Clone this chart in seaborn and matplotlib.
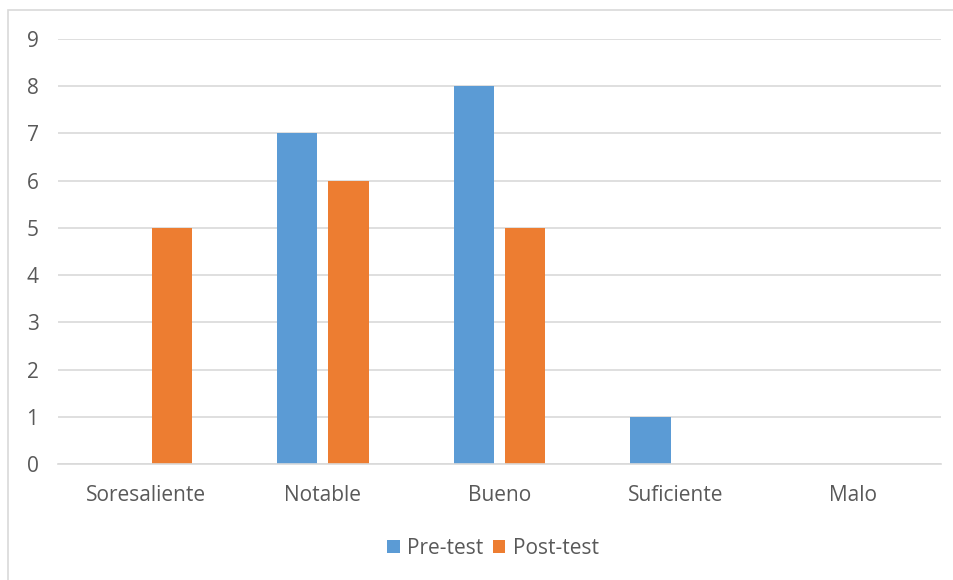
import matplotlib
matplotlib.use("Agg")
import matplotlib.pyplot as plt
import seaborn as sns
import pandas as pd
from matplotlib.patches import Rectangle, Patch

categories = ["Soresaliente", "Notable", "Bueno", "Suficiente", "Malo"]
pre_test = [0, 7, 8, 1, 0]
post_test = [5, 6, 5, 0, 0]
series = ["Pre-test", "Post-test"]
colors = ["#5B9BD5", "#ED7D31"]
y_ticks = list(range(0, 10))

df = pd.DataFrame({
    "categoria": categories * 2,
    "valor": pre_test + post_test,
    "serie": [series[0]] * len(categories) + [series[1]] * len(categories),
})

sns.set_style("white")
plt.rcParams["font.family"] = ["Open Sans", "DejaVu Sans"]
text_color = "#595959"
grid_color = "#D9D9D9"
fs = 15

W, H = 954, 580
fig = plt.figure(figsize=(W / 100, H / 100), dpi=100)
fig.patch.set_facecolor("white")

# outer chart frame
fig.add_artist(Rectangle((8 / W, -0.01), 1.0, 1 - 10 / H + 0.01,
                         transform=fig.transFigure, fill=False,
                         edgecolor="#D9D9D9", linewidth=1.2))

left, right = 58 / W, 941 / W
bottom, top = 1 - 464 / H, 1 - 39 / H
ax = fig.add_axes([left, bottom, right - left, top - bottom])

sns.barplot(data=df, x="categoria", y="valor", hue="serie",
            palette=colors, hue_order=series, order=categories,
            width=0.58, saturation=1, ax=ax, legend=False)

# narrow the bars so a small gap separates each pair
bar_w = 0.227
for p in ax.patches:
    cx = p.get_x() + p.get_width() / 2
    p.set_width(bar_w)
    p.set_x(cx - bar_w / 2)
    p.set_linewidth(0)

ax.set_ylim(0, 9)
ax.set_xlim(-0.5, len(categories) - 0.5)
ax.set_yticks(y_ticks)
ax.yaxis.grid(True, color=grid_color, linewidth=1.2)
ax.set_axisbelow(True)
for s in ["top", "right", "left"]:
    ax.spines[s].set_visible(False)
ax.spines["bottom"].set_color(grid_color)
ax.spines["bottom"].set_linewidth(1.2)
ax.set_xlabel("")
ax.set_ylabel("")
ax.tick_params(axis="y", length=0, pad=14, labelsize=fs, labelcolor=text_color)
ax.tick_params(axis="x", length=0, pad=15, labelsize=fs, labelcolor=text_color)

handles = [Patch(facecolor=c, edgecolor="none") for c in colors]
fig.legend(handles, series, loc="center", bbox_to_anchor=(493 / W, 1 - 548 / H),
           ncol=2, frameon=False, fontsize=fs, labelcolor=text_color,
           handlelength=0.6, handleheight=0.6, handletextpad=0.35,
           columnspacing=0.45)

fig.savefig("out.png", dpi=100, facecolor="white")
